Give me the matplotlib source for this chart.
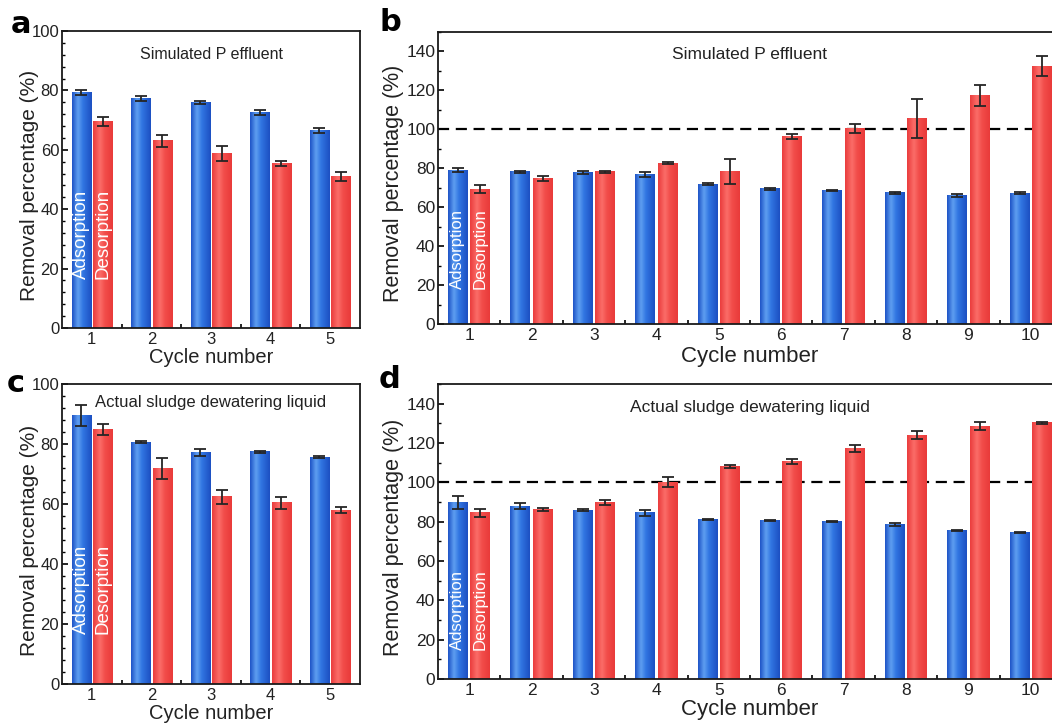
import numpy as np
import matplotlib
matplotlib.use("Agg")
import matplotlib.pyplot as plt
from matplotlib.colors import LinearSegmentedColormap
from matplotlib.ticker import MultipleLocator, FixedLocator

plt.rcParams['font.family'] = ['Liberation Sans', 'DejaVu Sans']

# ---- data ----
cycles_5 = [1, 2, 3, 4, 5]
cycles_10 = [1, 2, 3, 4, 5, 6, 7, 8, 9, 10]

# a: simulated P effluent, 5 cycles
a_ads = [79.2, 77.3, 76.0, 72.6, 66.5]
a_ads_err = [0.8, 0.8, 0.5, 0.8, 0.8]
a_des = [69.5, 63.1, 58.8, 55.3, 51.0]
a_des_err = [1.5, 2.0, 2.6, 0.8, 1.6]

# b: simulated P effluent, 10 cycles
b_ads = [79.1, 78.2, 77.9, 76.9, 71.9, 69.4, 68.6, 67.3, 66.1, 67.2]
b_ads_err = [0.8, 0.4, 0.6, 1.3, 0.5, 0.4, 0.3, 0.5, 0.9, 0.6]
b_des = [69.2, 74.6, 78.2, 82.6, 78.3, 96.2, 100.4, 105.4, 117.4, 132.5]
b_des_err = [2.0, 1.2, 0.5, 0.5, 6.5, 1.2, 2.5, 10.0, 5.3, 5.2]

# c: actual sludge dewatering liquid, 5 cycles
c_ads = [89.5, 80.6, 77.3, 77.4, 75.6]
c_ads_err = [3.4, 0.3, 1.2, 0.3, 0.3]
c_des = [84.9, 71.9, 62.4, 60.4, 57.9]
c_des_err = [1.8, 3.5, 2.4, 1.9, 1.0]

# d: actual sludge dewatering liquid, 10 cycles
d_ads = [89.6, 87.9, 85.9, 84.6, 81.1, 80.8, 79.9, 78.6, 75.6, 74.4]
d_ads_err = [3.4, 1.5, 0.3, 1.5, 0.3, 0.3, 0.3, 0.6, 0.4, 0.4]
d_des = [84.6, 86.3, 89.8, 100.0, 107.9, 110.5, 117.2, 124.0, 128.6, 130.3]
d_des_err = [2.0, 0.8, 1.3, 2.5, 0.8, 1.2, 1.8, 2.0, 2.0, 0.4]

# ---- style ----
BLUE = '#2a66d8'
RED = '#f04a48'
cmap_blue = LinearSegmentedColormap.from_list(
    'b', [(0, '#1d52c6'), (0.3, '#5f9ff1'), (0.55, '#3176e2'), (1, '#1c4fc2')])
cmap_red = LinearSegmentedColormap.from_list(
    'r', [(0, '#ea3c3c'), (0.35, '#fb6d69'), (0.6, '#f24d4a'), (1, '#e93a3a')])
grad = np.linspace(0, 1, 64)[None, :]


def shade(ax, bars, cmap):
    # cylinder-like shading across each bar
    for p in bars:
        x0, w, h = p.get_x(), p.get_width(), p.get_height()
        ax.imshow(grad, cmap=cmap, extent=(x0, x0 + w, 0, h), aspect='auto',
                  interpolation='bicubic', zorder=2.5)


def panel(ax, cycles, ads, ads_err, des, des_err, ymax, ymajor, yminor,
          title, title_y, fs):
    x = np.array(cycles, dtype=float)
    w, off = 0.32, 0.18
    if ymax > 100:
        ax.axhline(100, color='k', ls=(0, (5, 3)), lw=1.6, zorder=1)
    ba = ax.bar(x - off, ads, w, color=BLUE, zorder=2)
    bd = ax.bar(x + off, des, w, color=RED, zorder=2)
    shade(ax, ba, cmap_blue)
    shade(ax, bd, cmap_red)
    ekw = dict(fmt='none', ecolor='#252525', elinewidth=1.3, capsize=4,
               capthick=1.3, zorder=4)
    ax.errorbar(x - off, ads, yerr=ads_err, **ekw)
    ax.errorbar(x + off, des, yerr=des_err, **ekw)

    ax.set_xlim(0.5, len(cycles) + 0.5)
    ax.set_ylim(0, ymax)
    ax.set_xticks(cycles)
    ax.xaxis.set_minor_locator(FixedLocator(np.arange(1.5, len(cycles), 1.0)))
    ax.yaxis.set_major_locator(MultipleLocator(ymajor))
    ax.yaxis.set_minor_locator(MultipleLocator(yminor))
    ax.tick_params(axis='x', which='major', length=0, pad=3,
                   labelsize=fs['tick'], labelcolor='#222222')
    ax.tick_params(axis='x', which='minor', direction='in', length=3, width=1.2)
    ax.tick_params(axis='y', which='major', direction='in', length=4, width=1.2,
                   pad=2, labelsize=fs['tick'], labelcolor='#222222')
    ax.tick_params(axis='y', which='minor', direction='in', length=2, width=1.0)
    for s in ax.spines.values():
        s.set_linewidth(1.3)
        s.set_color('#1a1a1a')

    ax.text(np.mean(ax.get_xlim()), title_y, title, ha='center', va='center',
            fontsize=fs['title'], color='#222222')
    ax.text(x[0] - off, fs['inner_y'], 'Adsorption', rotation=90, ha='center',
            va='bottom', color='white', fontsize=fs['inner'], zorder=5)
    ax.text(x[0] + off, fs['inner_y'], 'Desorption', rotation=90, ha='center',
            va='bottom', color='white', fontsize=fs['inner'], zorder=5)
    ax.set_ylabel('Removal percentage (%)', fontsize=fs['ylab'], va='center',
                  color='#222222')
    ax.yaxis.set_label_coords(fs['ylab_x'], 0.48)
    ax.set_xlabel('Cycle number', fontsize=fs['xlab'], va='center',
                  color='#222222')
    ax.xaxis.set_label_coords(0.5, fs['xlab_y'])


W, H = 1052, 723
fig = plt.figure(figsize=(W / 100, H / 100), dpi=100)


def box(l, r, t, b):
    return [l / W, 1 - b / H, (r - l) / W, (b - t) / H]


ax_a = fig.add_axes(box(62, 360, 31, 328))
ax_b = fig.add_axes(box(438, 1062, 32, 324))
ax_c = fig.add_axes(box(62, 360, 384, 684))
ax_d = fig.add_axes(box(438, 1062, 384, 679))

fs_left = dict(tick=12, title=11.5, inner=13.5, inner_y=16.5, ylab=15, xlab=14.5,
               ylab_x=-0.11, xlab_y=-0.098)
fs_right = dict(tick=12.5, title=12.5, inner=12, inner_y=18, ylab=15.5,
                xlab=16, ylab_x=-0.072, xlab_y=-0.113)

panel(ax_a, cycles_5, a_ads, a_ads_err, a_des, a_des_err, 100, 20, 4,
      'Simulated P effluent', 92, fs_left)
panel(ax_b, cycles_10, b_ads, b_ads_err, b_des, b_des_err, 150, 20, 10,
      'Simulated P effluent', 138.5, fs_right)
fs_c = dict(fs_left, title=12)
panel(ax_c, cycles_5, c_ads, c_ads_err, c_des, c_des_err, 100, 20, 4,
      'Actual sludge dewatering liquid', 93.7, fs_c)
fs_d = dict(fs_right, inner_y=15, xlab_y=-0.105)
panel(ax_d, cycles_10, d_ads, d_ads_err, d_des, d_des_err, 150, 20, 10,
      'Actual sludge dewatering liquid', 138, fs_d)

for lab, px, py in [('a', 11, 33), ('b', 380, 31), ('c', 7, 392), ('d', 379, 388)]:
    fig.text(px / W, 1 - py / H, lab, fontsize=22, fontweight='heavy',
             family=['DejaVu Sans'], va='baseline', ha='left', color='black')

fig.savefig('out.png', dpi=100, facecolor='white')
